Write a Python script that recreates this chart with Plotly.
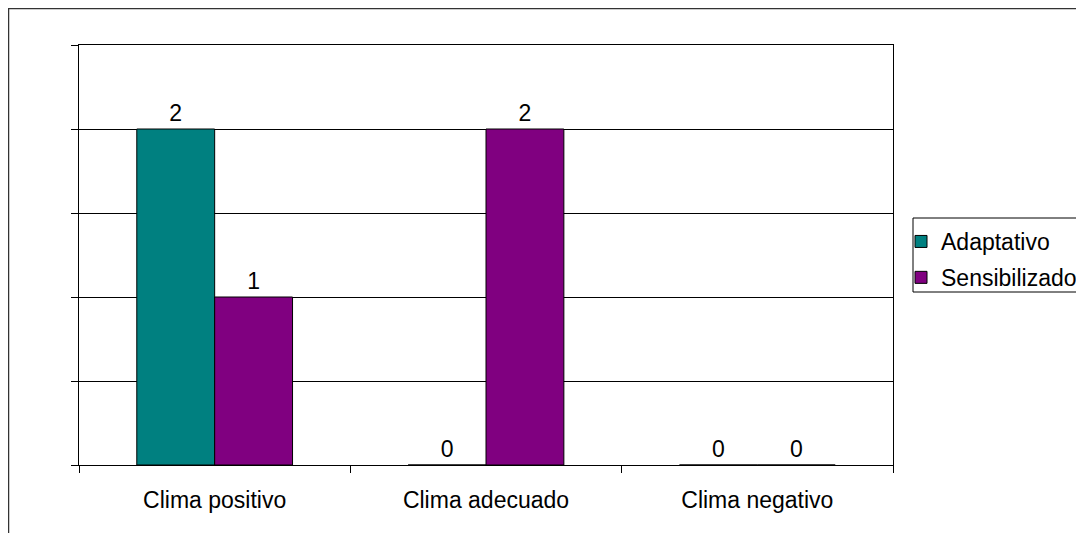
import plotly.graph_objects as go

categories = ["Clima positivo", "Clima adecuado", "Clima negativo"]
adaptativo = [2, 0, 0]
sensibilizado = [1, 2, 0]

FONT = "Liberation Sans, Arial, sans-serif"
FS = 23

fig = go.Figure()
fig.add_trace(go.Bar(
    name="Adaptativo", x=categories, y=adaptativo,
    marker=dict(color="#008080", line=dict(color="black", width=1)),
    text=adaptativo, textposition="outside", cliponaxis=False,
    textfont=dict(size=FS, color="black"), legendgroup="a",
))
fig.add_trace(go.Bar(
    name="Sensibilizado", x=categories, y=sensibilizado,
    marker=dict(color="#800080", line=dict(color="black", width=1)),
    text=sensibilizado, textposition="outside", cliponaxis=False,
    textfont=dict(size=FS, color="black"), legendgroup="s",
))

# plot area is 814 x 420 px; margins l=71, t=37
# outer chart frame along the figure edge (runs off right and bottom)
fig.add_shape(type="rect", xref="paper", yref="paper",
              x0=-70.5 / 814, x1=1.6, y0=-0.5, y1=1 + 36.5 / 420,
              line=dict(color="#333", width=1.5), layer="below")
# legend frame (drawn separately so the entries can sit closer to its left edge)
fig.add_shape(type="rect", xref="paper", yref="paper",
              x0=1 + 20 / 814, x1=1.4, y0=1 - 247 / 420, y1=1 - 173 / 420,
              line=dict(color="black", width=1), layer="below")

fig.update_layout(
    width=1084, height=533,
    margin=dict(l=71, r=199, t=37, b=76, autoexpand=False),
    paper_bgcolor="white", plot_bgcolor="white",
    font=dict(family=FONT, size=FS, color="black"),
    barmode="group", bargap=0.426, bargroupgap=0,
    showlegend=True,
    legend=dict(x=1 + 8 / 814, xanchor="left", y=1 - 175 / 420, yanchor="top",
                borderwidth=0, bgcolor="rgba(0,0,0,0)",
                font=dict(size=FS), tracegroupgap=3, itemwidth=30),
)
fig.update_xaxes(showline=True, linecolor="black", linewidth=1, mirror=True,
                 ticks="outside", ticklen=7, tickcolor="black",
                 tickson="boundaries", showgrid=False, ticklabelstandoff=14)
fig.update_yaxes(range=[0, 2.5], dtick=0.5, showticklabels=False,
                 showline=True, linecolor="black", linewidth=1, mirror=True,
                 ticks="outside", ticklen=7, tickcolor="black",
                 showgrid=True, gridcolor="black", gridwidth=1, zeroline=False)

fig.write_html("out.html")
